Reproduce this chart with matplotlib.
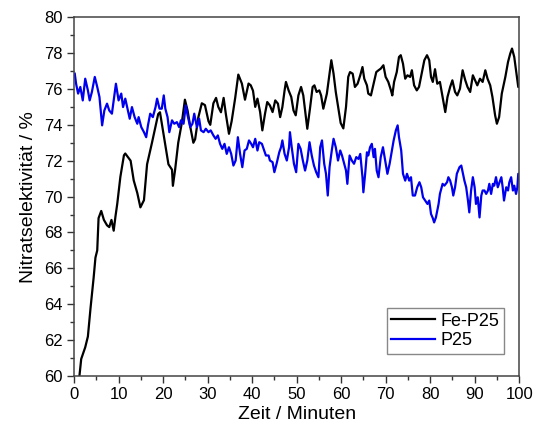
import numpy as np
import matplotlib.pyplot as plt

plt.rcParams['font.family'] = ['Liberation Sans', 'DejaVu Sans']

# Fe-P25 (Zeit in min, Selektivitaet in %)
fe_t = [1.2, 1.6, 2.5, 3.1, 3.7, 4.4, 4.8, 5.2, 5.5, 6.1, 6.7, 7.4, 7.9, 8.4, 8.9, 9.3, 9.7,
        10.4, 11.2, 11.5, 12.7, 13.4, 14.2, 14.9, 15.7, 16.4, 17.5, 18.9, 19.3, 20.4, 21.2,
        22.0, 22.2, 22.7, 23.4, 24.2, 24.9, 25.5, 26.1, 26.8, 27.2, 27.9, 28.7, 29.4, 30.2,
        30.6, 31.3, 31.9, 32.4, 33.0, 33.6, 34.1, 34.8, 35.4, 36.2, 36.9, 37.7, 38.4, 39.2,
        39.7, 40.2, 40.7, 41.2, 41.8, 42.3, 42.9, 43.4, 44.0, 44.6, 45.2, 45.8, 46.3, 46.8,
        47.3, 47.6, 48.2, 48.8, 49.3, 49.8, 50.4, 51.0, 51.5, 52.1, 52.4, 53.0, 53.6, 54.0,
        54.5, 55.1, 55.5, 56.0, 56.8, 57.3, 57.8, 58.3, 58.8, 59.4, 59.9, 60.5, 61.1, 61.6,
        62.0, 62.6, 63.1, 63.7, 64.3, 64.8, 65.2, 65.8, 66.1, 66.7, 67.3, 67.9, 68.4, 68.9,
        69.5, 70.0, 70.6, 71.2, 71.5, 71.9, 72.5, 73.0, 73.4, 73.9, 74.4, 74.9, 75.5, 75.9,
        76.4, 77.0, 77.5, 78.1, 78.7, 79.3, 79.8, 80.2, 80.6, 81.1, 81.6, 82.2, 82.8, 83.4,
        83.9, 84.5, 85.0, 85.6, 86.1, 86.7, 87.3, 87.9, 88.4, 89.0, 89.6, 90.1, 90.6, 91.2,
        91.8, 92.4, 92.9, 93.5, 94.0, 94.6, 95.0, 95.5, 96.1, 96.9, 97.5, 98.0, 98.4, 98.9,
        99.3, 99.8, 100.0]
fe_v = [60.0, 60.95, 61.6, 62.2, 63.8, 65.5, 66.6, 67.0, 68.8, 69.2, 68.7, 68.4, 68.3, 68.7,
        68.1, 68.9, 69.6, 71.1, 72.3, 72.4, 72.0, 70.9, 70.2, 69.4, 69.8, 71.8, 73.0, 74.6,
        74.7, 73.0, 71.8, 71.5, 70.6, 71.5, 73.0, 74.1, 75.4, 74.8, 73.9, 73.0, 73.2, 74.4,
        75.2, 75.1, 74.2, 74.0, 75.2, 75.5, 75.0, 74.7, 75.5, 74.6, 73.5, 74.2, 75.5, 76.8,
        76.3, 75.4, 76.3, 76.2, 75.9, 75.0, 75.46, 74.71, 73.69, 74.62, 75.27, 75.08, 74.71,
        75.36, 75.18, 74.43, 74.99, 75.92, 76.39, 75.92, 75.55, 74.8, 74.53, 75.64, 76.11,
        75.64, 74.43, 73.78, 74.9, 76.11, 76.2, 75.83, 75.92, 75.64, 74.9, 75.74, 76.67, 77.6,
        76.85, 75.83, 74.9, 74.1, 73.8, 75.0, 76.67, 76.94, 76.85, 76.11, 76.29, 76.76, 77.22,
        76.57, 76.2, 75.74, 75.64, 76.29, 76.94, 77.04, 77.13, 77.32, 76.67, 76.39, 75.92,
        75.64, 76.39, 76.94, 77.78, 77.88, 77.41, 76.57, 76.76, 76.67, 77.04, 76.2, 75.92,
        76.11, 76.85, 77.6, 77.88, 77.6, 76.67, 76.39, 77.1, 76.29, 76.39, 75.55, 74.71,
        75.55, 76.11, 76.48, 75.83, 75.64, 76.01, 77.04, 76.48, 76.11, 75.83, 76.76, 76.48,
        76.2, 76.57, 76.39, 77.04, 76.57, 76.2, 75.55, 74.53, 74.06, 74.43, 75.74, 76.67,
        77.5, 77.97, 78.25, 77.78, 77.04, 76.11, 76.1]

# P25
p25_t = [0.15, 0.45, 0.9, 1.4, 1.95, 2.5, 3.1, 3.5, 4.0, 4.65, 5.2, 5.7, 6.3, 6.8, 7.4, 7.9,
         8.5, 9.1, 9.4, 10.0, 10.6, 11.0, 11.5, 12.1, 12.5, 13.0, 13.6, 14.2, 14.5, 15.1,
         15.7, 16.2, 16.6, 17.1, 17.7, 18.3, 18.65, 19.2, 19.7, 20.15, 20.5, 21.0, 21.4,
         22.0, 22.5, 23.1, 23.6, 24.0, 24.6, 25.1, 25.5, 26.1, 26.6, 27.0, 27.6, 28.1, 28.5,
         29.1, 29.6, 30.2, 30.7, 31.3, 31.8, 32.3, 32.8, 33.3, 33.8, 34.3, 34.8, 35.3, 35.8,
         36.3, 36.8, 37.3, 37.8, 38.3, 38.8, 39.3, 39.8, 40.2, 40.7, 41.2, 41.6, 42.2, 42.7,
         43.1, 43.7, 44.0, 44.6, 45.0, 45.5, 46.1, 46.5, 46.8, 47.3, 47.8, 48.3, 48.5, 48.9,
         49.4, 49.9, 50.4, 50.9, 51.4, 51.9, 52.4, 52.9, 53.4, 53.9, 54.4, 54.9, 55.3, 55.7,
         56.2, 56.6, 57.0, 57.4, 57.9, 58.3, 58.8, 59.3, 59.8, 60.2, 60.7, 61.1, 61.4, 61.9,
         62.4, 62.9, 63.4, 63.9, 64.3, 64.8, 65.0, 65.4, 65.8, 66.1, 66.5, 66.9, 67.3, 67.6,
         68.0, 68.4, 68.9, 69.4, 69.9, 70.4, 70.9, 71.4, 71.8, 72.3, 72.7, 73.0, 73.5, 73.9,
         74.4, 74.8, 75.3, 75.7, 76.1, 76.6, 77.1, 77.6, 78.0, 78.4, 78.9, 79.4, 79.8, 80.2,
         80.6, 80.9, 81.3, 81.9, 82.2, 82.8, 83.2, 83.8, 84.1, 84.5, 84.9, 85.2, 85.6, 86.0,
         86.6, 87.0, 87.3, 87.7, 88.1, 88.5, 88.8, 89.2, 89.6, 90.0, 90.3, 90.7, 91.1, 91.5,
         91.8, 92.2, 92.6, 93.0, 93.3, 93.7, 94.1, 94.4, 94.8, 95.2, 95.6, 96.0, 96.3, 96.6,
         97.1, 97.5, 97.8, 98.2, 98.6, 98.9, 99.3, 99.6, 99.8, 100.0]
p25_v = [76.85, 76.29, 75.74, 76.11, 75.36, 76.57, 75.92, 75.36, 75.83, 76.67, 76.11, 75.55,
         73.97, 74.8, 75.18, 74.8, 74.62, 75.74, 76.29, 75.36, 75.74, 74.99, 75.46, 74.8,
         74.34, 74.99, 74.43, 74.06, 74.43, 73.87, 73.59, 73.31, 73.97, 74.62, 74.43, 74.99,
         75.46, 74.9, 74.9, 75.64, 74.9, 74.43, 73.59, 74.25, 74.06, 74.15, 73.87, 74.25,
         74.06, 75.08, 74.53, 73.87, 74.06, 74.62, 73.87, 74.34, 73.69, 73.59, 73.78, 73.59,
         73.69, 73.41, 73.22, 73.41, 72.94, 72.66, 72.94, 72.38, 72.75, 72.38, 71.73, 72.01,
         73.31, 72.38, 71.64, 72.57, 72.66, 73.13, 72.94, 72.75, 73.22, 72.57, 73.03, 72.94,
         72.57, 72.29, 72.29, 72.01, 71.92, 71.36, 71.83, 72.47, 72.75, 73.13, 72.38, 72.01,
         72.75, 73.59, 72.75, 71.83, 71.36, 72.94, 72.66, 72.01, 71.45, 72.01, 73.03, 72.29,
         71.73, 71.36, 71.08, 72.75, 73.13, 71.83, 71.27, 70.06, 71.64, 72.57, 73.22, 72.75,
         72.01, 72.57, 72.29, 71.83, 71.45, 70.71, 72.29, 72.01, 71.83, 72.2, 72.1, 72.38,
         71.08, 70.24, 71.27, 72.47, 72.29, 72.75, 72.94, 72.2, 72.66, 71.45, 71.08, 72.2,
         72.75, 72.01, 71.27, 71.83, 72.57, 73.13, 73.69, 73.97, 73.31, 72.57, 71.27, 70.89,
         71.27, 70.89, 71.08, 70.06, 70.06, 70.52, 70.8, 70.52, 69.96, 69.78, 69.59, 69.78,
         69.03, 68.8, 68.56, 68.84, 69.59, 70.15, 70.71, 70.61, 70.8, 71.08, 70.89, 70.52,
         70.06, 70.52, 71.27, 71.64, 71.73, 71.36, 70.89, 70.52, 69.78, 69.12, 70.34, 71.08,
         70.52, 69.59, 69.96, 68.84, 70.06, 70.34, 70.34, 70.15, 70.34, 70.71, 70.15, 70.71,
         70.61, 71.08, 70.52, 70.8, 71.08, 70.52, 69.78, 70.52, 70.34, 70.8, 71.08, 70.34,
         70.61, 70.15, 70.52, 71.27, 71.27]

fig = plt.figure(figsize=(5.33, 4.29), dpi=100)
ax = fig.add_axes([0.139, 0.1235, 0.835, 0.8365])

ax.plot(fe_t, fe_v, color='black', lw=1.6, label='Fe-P25')
ax.plot(p25_t, p25_v, color='#0000ee', lw=1.6, label='P25')

ax.set_xlim(0, 100)
ax.set_ylim(60, 80)
ax.set_xticks(np.arange(0, 101, 10))
ax.set_xticks(np.arange(5, 100, 10), minor=True)
ax.set_yticks(np.arange(60, 81, 2))
ax.set_yticks(np.arange(61, 80, 2), minor=True)
ax.tick_params(which='major', direction='out', length=5, width=1, labelsize=12,
               color='#333333', pad=3)
ax.tick_params(which='minor', direction='out', length=3, width=1, color='#333333')
for s in ax.spines.values():
    s.set_color('#444444')
    s.set_linewidth(1.1)

ax.set_xlabel('Zeit / Minuten', fontsize=14, labelpad=3)
ax.set_ylabel('Nitratselektivität / %', fontsize=14, labelpad=5)

leg = ax.legend(loc='lower right', bbox_to_anchor=(0.965, 0.062), borderaxespad=0,
                fontsize=13, fancybox=False, framealpha=1, edgecolor='#888888',
                handlelength=2.4, handletextpad=0.3, borderpad=0.25, labelspacing=0.15)
leg.get_frame().set_linewidth(1.0)

fig.savefig('out.png', dpi=100)
